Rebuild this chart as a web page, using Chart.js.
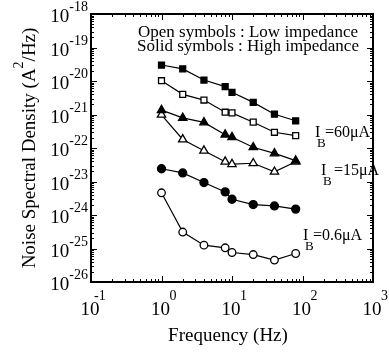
<!DOCTYPE html>
<html>
<head>
<meta charset="utf-8">
<script src="https://cdn.jsdelivr.net/npm/chart.js@4.4.1/dist/chart.umd.min.js"></script>
<style>
  html, body { margin: 0; padding: 0; background: #fff; }
  #wrap { width: 389px; height: 352px; position: relative; }
</style>
</head>
<body>
<div id="wrap"><canvas id="chart"></canvas></div>
<script>
const frequencies = [1, 2, 4, 8, 10, 20, 40, 80]

// I_B = 60 uA
const high60 = [3.0e-20, 2.3e-20, 1.07e-20, 6.8e-21, 4.6e-21, 2.3e-21, 1.02e-21, 6.5e-22]
const low60 = [1.02e-20, 4.0e-21, 2.7e-21, 1.17e-21, 1.12e-21, 5.9e-22, 2.95e-22, 2.35e-22]
// I_B = 15 uA
const high15 = [1.35e-21, 7.9e-22, 5.8e-22, 2.5e-22, 2.1e-22, 1.05e-22, 6.9e-23, 4.2e-23]
const low15 = [9.8e-22, 1.8e-22, 8.3e-23, 3.9e-23, 3.3e-23, 3.5e-23, 1.95e-23, 3.9e-23]
// I_B = 0.6 uA
const high06 = [2.4e-23, 1.8e-23, 9.3e-24, 4.9e-24, 2.95e-24, 2.05e-24, 1.86e-24, 1.5e-24]
const low06 = [4.6e-24, 3.1e-25, 1.26e-25, 1.05e-25, 7.6e-26, 6.6e-26, 4.5e-26, 7.1e-26]

const xTickExps = [-1, 0, 1, 2, 3]
const yTickExps = [-26, -25, -24, -23, -22, -21, -20, -19, -18]

const noteLines = ["Open symbols : Low impedance", "Solid symbols : High impedance"]
const currentLabels = ["=60\u03bcA", "=15\u03bcA", "=0.6\u03bcA"]

const SERIF = '"Liberation Serif", "Times New Roman", serif'

function series(values, style, filled, radius) {
  return {
    data: values.map((v, i) => ({ x: frequencies[i], y: v })),
    borderColor: "#000",
    borderWidth: 1.2,
    pointStyle: style,
    pointRadius: radius,
    pointHoverRadius: radius,
    pointBackgroundColor: filled ? "#000" : "#fff",
    pointBorderColor: "#000",
    pointBorderWidth: 1.3,
    fill: false,
    tension: 0
  }
}

const pow10 = (e) => Number("1e" + e)

// frame, inward ticks and all the text drawn on top of the plot
const decorations = {
  id: "decorations",
  afterDraw(chart) {
    const { ctx, chartArea: a, scales: { x, y } } = chart
    ctx.save()
    ctx.strokeStyle = "#000"
    ctx.fillStyle = "#000"

    ctx.lineWidth = 1
    ctx.beginPath()
    xTickExps.forEach((e, i) => {
      const steps = i < xTickExps.length - 1 ? 9 : 1
      for (let m = 1; m <= steps; m++) {
        const px = Math.round(x.getPixelForValue(m * pow10(e))) + 0.5
        const len = m === 1 ? 6 : 3
        ctx.moveTo(px, a.bottom); ctx.lineTo(px, a.bottom - len)
        ctx.moveTo(px, a.top); ctx.lineTo(px, a.top + len)
      }
    })
    yTickExps.forEach((e, i) => {
      const steps = i < yTickExps.length - 1 ? 9 : 1
      for (let m = 1; m <= steps; m++) {
        const py = Math.round(y.getPixelForValue(m * pow10(e))) + 0.5
        const len = m === 1 ? 6 : 3
        ctx.moveTo(a.left, py); ctx.lineTo(a.left + len, py)
        ctx.moveTo(a.right, py); ctx.lineTo(a.right - len, py)
      }
    })
    ctx.stroke()

    ctx.lineWidth = 2
    ctx.strokeRect(a.left, a.top, a.right - a.left, a.bottom - a.top)

    // y tick labels: 10 with superscript exponent
    ctx.textBaseline = "alphabetic"
    yTickExps.forEach((e) => {
      const py = y.getPixelForValue(pow10(e))
      ctx.font = `14px ${SERIF}`
      ctx.textAlign = "right"
      const expText = String(e)
      const ew = ctx.measureText(expText).width
      ctx.fillText(expText, a.left - 3, py - 3)
      ctx.font = `19px ${SERIF}`
      ctx.fillText("10", a.left - 3 - ew, py + 8)
    })

    // x tick labels
    xTickExps.forEach((e) => {
      const px = x.getPixelForValue(pow10(e))
      ctx.font = `19px ${SERIF}`
      ctx.textAlign = "center"
      ctx.fillText("10", px - 1, a.bottom + 33)
      ctx.font = `14px ${SERIF}`
      ctx.textAlign = "left"
      ctx.fillText(String(e), e < 0 ? px + 3 : px + 8, a.bottom + 18)
    })

    // axis titles
    ctx.font = `19px ${SERIF}`
    ctx.textAlign = "center"
    ctx.fillText("Frequency (Hz)", (a.left + a.right) / 2 - 4, 341)

    ctx.save()
    ctx.translate(35, (a.top + a.bottom) / 2)
    ctx.rotate(-Math.PI / 2)
    const t1 = "Noise Spectral Density (A"
    const t2 = "2"
    const t3 = "/Hz)"
    ctx.font = `19px ${SERIF}`
    const w1 = ctx.measureText(t1).width
    const w3 = ctx.measureText(t3).width
    ctx.font = `14px ${SERIF}`
    const w2 = ctx.measureText(t2).width
    let cx = -(w1 + w2 + w3) / 2
    ctx.textAlign = "left"
    ctx.font = `19px ${SERIF}`
    ctx.fillText(t1, cx, 0)
    cx += w1
    ctx.font = `14px ${SERIF}`
    ctx.fillText(t2, cx, -12)
    cx += w2
    ctx.font = `19px ${SERIF}`
    ctx.fillText(t3, cx, 0)
    ctx.restore()

    // note in the upper part of the plot
    ctx.font = `17px ${SERIF}`
    ctx.textAlign = "center"
    ctx.fillText(noteLines[0], 248, 37)
    ctx.fillText(noteLines[1], 248, 51)

    // current labels next to each pair of curves
    const spots = [
      { x: 315, y: 137 },
      { x: 321, y: 175 },
      { x: 303, y: 240 }
    ]
    ctx.textAlign = "left"
    currentLabels.forEach((txt, i) => {
      const s = spots[i]
      ctx.font = `16px ${SERIF}`
      ctx.fillText("I", s.x, s.y)
      ctx.font = `13px ${SERIF}`
      ctx.fillText("B", s.x + 2, s.y + 10)
      ctx.font = `16px ${SERIF}`
      ctx.fillText(txt, s.x + (i === 1 ? 13 : 10), s.y)
    })
    ctx.restore()
  }
}

new Chart(document.getElementById("chart"), {
  type: "line",
  data: {
    datasets: [
      series(high60, "rect", true, 4.2),
      series(low60, "rect", false, 4.2),
      series(high15, "triangle", true, 4.8),
      series(low15, "triangle", false, 4.8),
      series(high06, "circle", true, 4),
      series(low06, "circle", false, 3.8)
    ]
  },
  options: {
    responsive: true,
    maintainAspectRatio: false,
    animation: false,
    events: [],
    layout: { padding: { left: 91, right: 16, top: 14, bottom: 70 } },
    plugins: {
      legend: { display: false },
      tooltip: { enabled: false }
    },
    scales: {
      x: { type: "logarithmic", min: 0.1, max: 1000, display: false },
      y: { type: "logarithmic", min: 1e-26, max: 1e-18, display: false }
    }
  },
  plugins: [decorations]
})
</script>
</body>
</html>
